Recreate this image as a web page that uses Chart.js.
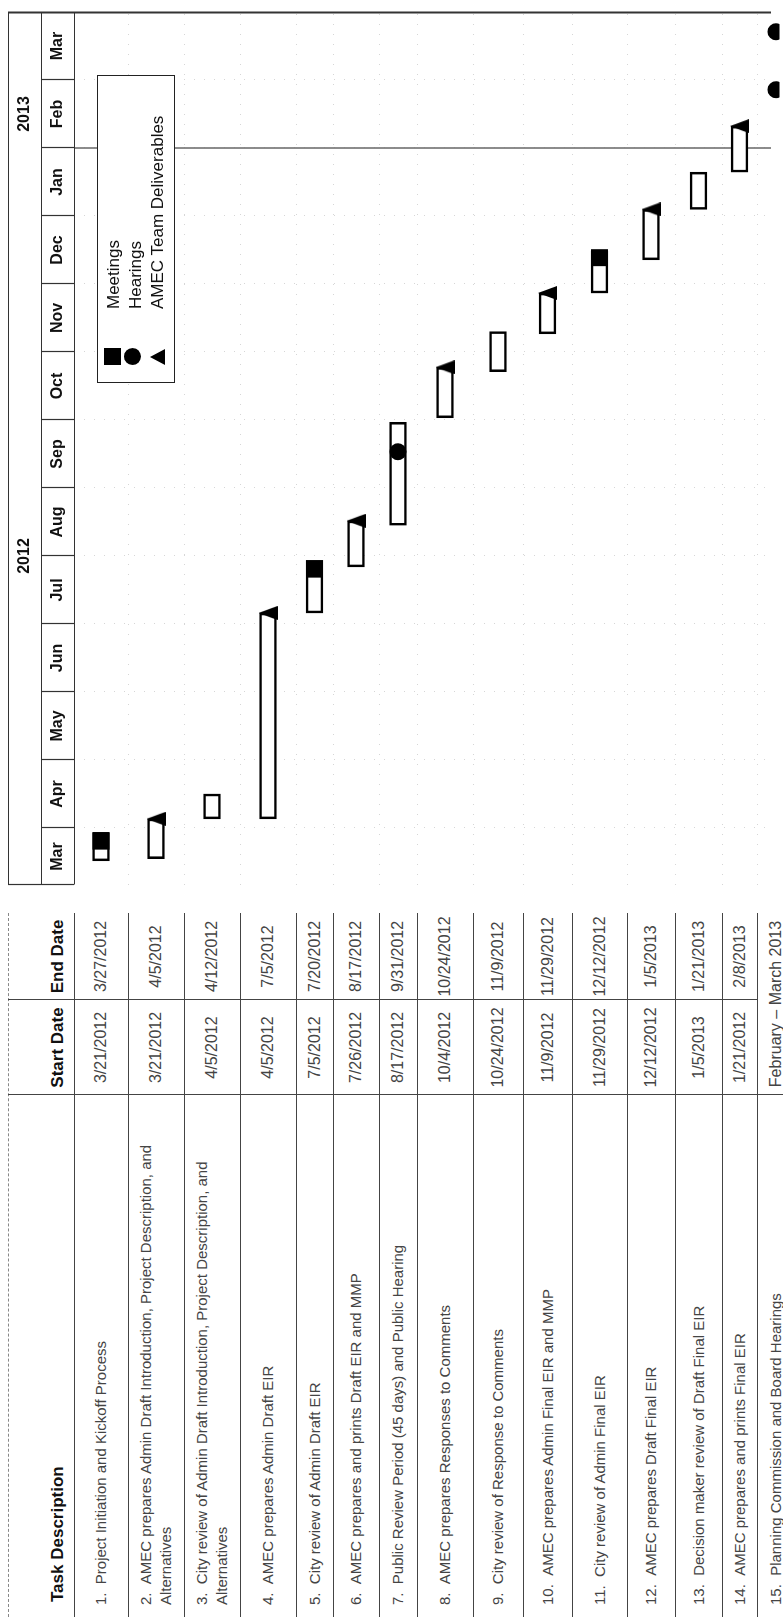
<!DOCTYPE html>
<html>
<head>
<meta charset="utf-8">
<script src="https://cdn.jsdelivr.net/npm/chart.js@4.4.1/dist/chart.umd.min.js"></script>
<style>
html,body{margin:0;padding:0;background:#fff;width:783px;height:1617px;overflow:hidden;}
#page{position:absolute;left:0;top:0;width:1617px;height:783px;transform-origin:0 0;
  transform:translate(0,1617px) rotate(-90deg);background:#fff;overflow:hidden;
  font-family:"Liberation Sans",Arial,Helvetica,sans-serif;}
#gantt{position:absolute;left:720px;top:0;}
.hl{position:absolute;height:0;border-top:1px solid #444;}
.hl.dot{border-top:1px dashed #888;}
.vl{position:absolute;width:0;border-left:1px solid #444;}
.cell{position:absolute;display:flex;align-items:center;color:#444;box-sizing:border-box;}
.task{font-size:15px;line-height:20px;padding-left:12px;}
.date{font-size:16px;justify-content:center;}
.hdr{position:absolute;font-weight:bold;font-size:17px;color:#111;line-height:20px;top:48px;white-space:nowrap;}
#legend{position:absolute;left:1234px;top:97px;width:308px;height:78px;box-sizing:border-box;
  border:1.5px solid #222;background:#fff;z-index:2;}
#legend .txt{position:absolute;left:73px;font-size:17px;line-height:22px;color:#111;white-space:nowrap;}
#legend .sym{position:absolute;left:17px;}
</style>
</head>
<body>
<div id="page">
  <canvas id="gantt" width="897" height="783"></canvas>
  <div id="legend"></div>
</div>
<script>
// ---------------- data ----------------
const taskNames = [
  'Project Initiation and Kickoff Process',
  'AMEC prepares Admin Draft Introduction, Project Description, and Alternatives',
  'City review of Admin Draft Introduction, Project Description, and Alternatives',
  'AMEC prepares Admin Draft EIR',
  'City review of Admin Draft EIR',
  'AMEC prepares and prints Draft EIR and MMP',
  'Public Review Period (45 days) and Public Hearing',
  'AMEC prepares Responses to Comments',
  'City review of Response to Comments',
  'AMEC prepares Admin Final EIR and MMP',
  'City review of Admin Final EIR',
  'AMEC prepares Draft Final EIR',
  'Decision maker review of Draft Final EIR',
  'AMEC prepares and prints Final EIR',
  'Planning Commission and Board Hearings'
];
const startDates = ['3/21/2012','3/21/2012','4/5/2012','4/5/2012','7/5/2012','7/26/2012','8/17/2012',
  '10/4/2012','10/24/2012','11/9/2012','11/29/2012','12/12/2012','1/5/2013','1/21/2012'];
const endDates = ['3/27/2012','4/5/2012','4/12/2012','7/5/2012','7/20/2012','8/17/2012','9/31/2012',
  '10/24/2012','11/9/2012','11/29/2012','12/12/2012','1/5/2013','1/21/2013','2/8/2013'];
const lastRowPeriod = 'February – March 2013';

// bars as drawn on the timeline
const barStart = ['2012-03-17','2012-03-18','2012-04-05','2012-04-05','2012-07-06','2012-07-27','2012-08-15',
  '2012-10-02','2012-10-23','2012-11-09','2012-11-27','2012-12-12','2013-01-04','2013-01-21'];
const barEnd = ['2012-03-30','2012-04-05','2012-04-16','2012-07-06','2012-07-30','2012-08-17','2012-09-30',
  '2012-10-25','2012-11-10','2012-11-27','2012-12-16','2013-01-04','2013-01-21','2013-02-10'];

const meetingRows = [0, 4, 10];
const meetingDates = ['2012-03-26','2012-07-26','2012-12-13'];
const hearingRows = [6, 14, 14];
const hearingDates = ['2012-09-17','2013-02-25','2013-03-23'];
const deliverableRows = [1, 3, 5, 7, 9, 11, 13];
const deliverableDates = ['2012-04-05','2012-07-06','2012-08-17','2012-10-25','2012-11-27','2013-01-04','2013-02-10'];

const monthLabels = ['Mar','Apr','May','Jun','Jul','Aug','Sep','Oct','Nov','Dec','Jan','Feb','Mar'];
const yearLabels = ['2012','2013'];
const legendLabels = ['Meetings','Hearings','AMEC Team Deliverables'];
const statusDate = '2013-02-01';
const axisStart = '2012-03-06';

// ---------------- layout constants ----------------
const ROW_HEIGHTS = [54,56,56,56,37,46,38,56,50,49,55,48,47,35,38];
const BODY_TOP = 74, TABLE_TOP = 8, COL1 = 522, COL2 = 617, TABLE_RIGHT = 704;
const FONT = '"Liberation Sans", Arial, Helvetica, sans-serif';

// month position: 0 = 1 Mar 2012, each month one unit wide
function mpos(iso){
  const [y,m,d] = iso.split('-').map(Number);
  const dim = new Date(y, m, 0).getDate();
  return (y - 2012) * 12 + (m - 3) + (d - 1) / dim;
}
const AXIS_MIN = mpos(axisStart), AXIS_MAX = 13;
const monthCenters = monthLabels.map((_, k) => k === 0 ? (AXIS_MIN + 1) / 2 : k + 0.5);
const yearCenters = [5, 11.5];

// ---------------- table (HTML) ----------------
const page = document.getElementById('page');
function add(cls, style, html){
  const d = document.createElement('div');
  d.className = cls; Object.assign(d.style, style);
  if (html != null) d.innerHTML = html;
  page.appendChild(d); return d;
}
const cum = [0];
ROW_HEIGHTS.forEach(h => cum.push(cum[cum.length-1] + h));

add('hl dot', {left:'0px', top: TABLE_TOP+'px', width: TABLE_RIGHT+'px'});
add('hl', {left:'0px', top: BODY_TOP+'px', width: TABLE_RIGHT+'px'});
add('hdr', {left:'15px'}, 'Task Description');
add('hdr', {left:COL1+'px', width:(COL2-COL1)+'px', textAlign:'center'}, 'Start Date');
add('hdr', {left:COL2+'px', width:(TABLE_RIGHT-COL2)+'px', textAlign:'center'}, 'End Date');
add('vl', {left:COL1+'px', top:TABLE_TOP+'px', height:(783-TABLE_TOP)+'px'});
add('vl', {left:COL2+'px', top:TABLE_TOP+'px', height:(BODY_TOP+cum[14]-TABLE_TOP)+'px'});

taskNames.forEach((name, i) => {
  const top = BODY_TOP + cum[i], h = ROW_HEIGHTS[i];
  if (i > 0) add('hl', {left:'0px', top: top+'px', width: TABLE_RIGHT+'px'});
  const txt = (i+1) + '.&nbsp;&nbsp;' + name.replace(', and Alternatives', ', and<br>Alternatives');
  add('cell task', {left:'0px', top: top+'px', width: COL1+'px', height: h+'px'}, '<div>'+txt+'</div>');
  if (i < startDates.length) {
    add('cell date', {left:COL1+'px', top: top+'px', width:(COL2-COL1)+'px', height:h+'px'}, startDates[i]);
    add('cell date', {left:COL2+'px', top: top+'px', width:(TABLE_RIGHT-COL2)+'px', height:h+'px'}, endDates[i]);
  } else {
    add('cell date', {left:COL1+'px', top: top+'px', width:(TABLE_RIGHT-COL1)+'px', height:h+'px'}, lastRowPeriod);
  }
});

// ---------------- legend (HTML) ----------------
const legend = document.getElementById('legend');
const symStyles = [
  'width:17px;height:17px;background:#000;top:6px;',
  'width:17px;height:17px;background:#000;border-radius:50%;top:26px;',
  'width:0;height:0;border-left:8px solid transparent;border-right:8px solid transparent;border-bottom:15px solid #000;top:52px;'
];
legendLabels.forEach((lab, i) => {
  const s = document.createElement('div'); s.className = 'sym'; s.style.cssText += symStyles[i]; legend.appendChild(s);
  const t = document.createElement('div'); t.className = 'txt'; t.style.top = (5 + 22*i) + 'px'; t.textContent = lab; legend.appendChild(t);
});

// ---------------- chart ----------------
class RowScale extends Chart.CategoryScale {
  edge(i){ return this.top + cum[i]; }
  getPixelForValue(value){
    if (typeof value !== 'number') value = this.parse(value);
    if (value === null || isNaN(value)) return NaN;
    const i = Math.round(value);
    return this.top + cum[i] + ROW_HEIGHTS[i] / 2;
  }
}
RowScale.id = 'rows';
RowScale.defaults = Chart.CategoryScale.defaults;
Chart.register(RowScale);

const tri = document.createElement('canvas');
tri.width = 14; tri.height = 19;
(function(){ const c = tri.getContext('2d'); c.fillStyle = '#000'; c.beginPath();
  c.moveTo(7,0); c.lineTo(14,19); c.lineTo(0,19); c.closePath(); c.fill(); })();

const frame = {
  id: 'frame',
  beforeDatasetsDraw(chart){
    const {ctx, chartArea:a, scales:{x, y}} = chart;
    ctx.save();
    ctx.strokeStyle = '#d6d6d6'; ctx.lineWidth = 1; ctx.setLineDash([1,9]);
    for (let k = 1; k < 13; k++){ const px = Math.round(x.getPixelForValue(k)) + 0.5;
      ctx.beginPath(); ctx.moveTo(px, a.top); ctx.lineTo(px, a.bottom); ctx.stroke(); }
    for (let i = 1; i < ROW_HEIGHTS.length; i++){ const py = Math.round(y.edge(i)) + 0.5;
      ctx.beginPath(); ctx.moveTo(a.left, py); ctx.lineTo(a.right, py); ctx.stroke(); }
    ctx.setLineDash([]);
    const sx = Math.round(x.getPixelForValue(mpos(statusDate)));
    ctx.strokeStyle = '#707070'; ctx.lineWidth = 1.6;
    ctx.beginPath(); ctx.moveTo(sx, a.top); ctx.lineTo(sx, a.bottom); ctx.stroke();
    ctx.restore();
  },
  afterDraw(chart){
    const {ctx, chartArea:a, scales:{x, years}} = chart;
    ctx.save();
    ctx.strokeStyle = '#333'; ctx.lineWidth = 1.2;
    const L = a.left + 0.5, R = a.right - 0.5;
    ctx.beginPath();
    ctx.moveTo(L, years.top + 0.5); ctx.lineTo(a.right, years.top + 0.5);
    ctx.moveTo(L, x.top + 0.5); ctx.lineTo(a.right, x.top + 0.5);
    ctx.moveTo(L, x.bottom + 0.5); ctx.lineTo(a.right, x.bottom + 0.5);
    ctx.moveTo(L, years.top); ctx.lineTo(L, x.bottom);
    for (let k = 1; k < 13; k++){ const px = Math.round(x.getPixelForValue(k)) + 0.5;
      ctx.moveTo(px, x.top); ctx.lineTo(px, x.bottom); }
    ctx.stroke();
    ctx.lineWidth = 2;
    ctx.beginPath(); ctx.moveTo(R, years.top); ctx.lineTo(R, a.bottom); ctx.stroke();
    ctx.restore();
  }
};

const tickFont = {family: FONT, size: 16, weight: 'bold'};
new Chart(document.getElementById('gantt'), {
  type: 'bar',
  data: {
    labels: taskNames,
    datasets: [
      { type:'scatter', label: legendLabels[0], order: 0, xAxisID:'x', yAxisID:'y',
        data: meetingRows.map((r, i) => ({x: mpos(meetingDates[i]), y: taskNames[r]})),
        pointStyle:'rect', pointRadius: 12, backgroundColor:'#000', borderWidth: 0 },
      { type:'scatter', label: legendLabels[1], order: 1, xAxisID:'x', yAxisID:'y',
        data: hearingRows.map((r, i) => ({x: mpos(hearingDates[i]), y: taskNames[r]})),
        pointStyle:'circle', pointRadius: 8.5, backgroundColor:'#000', borderWidth: 0 },
      { type:'scatter', label: legendLabels[2], order: 2, xAxisID:'x', yAxisID:'y',
        data: deliverableRows.map((r, i) => ({x: mpos(deliverableDates[i]), y: taskNames[r]})),
        pointStyle: tri, pointRadius: 8, backgroundColor:'#000', borderWidth: 0 },
      { type:'bar', label:'Tasks', order: 10, xAxisID:'x', yAxisID:'y', indexAxis:'y',
        data: barStart.map((s, i) => [mpos(s), mpos(barEnd[i])]),
        backgroundColor:'#fff', borderColor:'#000', borderWidth: 2.6, borderSkipped: false,
        barThickness: 17 }
    ]
  },
  options: {
    indexAxis: 'y',
    responsive: false, animation: false, events: [],
    layout: { padding: { top: 8, left: 7, right: 2, bottom: 0 } },
    plugins: { legend: { display: false }, tooltip: { enabled: false } },
    scales: {
      x: { type:'linear', position:'top', min: AXIS_MIN, max: AXIS_MAX, bounds:'data', weight: 0,
        grid: { display: false, drawTicks: false }, border: { display: false },
        afterBuildTicks: s => { s.ticks = monthCenters.map(v => ({value: v})); },
        ticks: { autoSkip: false, maxRotation: 0, minRotation: 0, padding: 6.9, color:'#111',
          font: tickFont, callback: (v, i) => monthLabels[i] } },
      years: { type:'linear', position:'top', min: AXIS_MIN, max: AXIS_MAX, bounds:'data', weight: 1,
        grid: { display: false, drawTicks: false }, border: { display: false },
        afterBuildTicks: s => { s.ticks = yearCenters.map(v => ({value: v})); },
        ticks: { autoSkip: false, maxRotation: 0, minRotation: 0, padding: 6.9, color:'#111',
          font: tickFont, callback: (v, i) => yearLabels[i] } },
      y: { type:'rows', display: false }
    }
  },
  plugins: [frame]
});
</script>
</body>
</html>
